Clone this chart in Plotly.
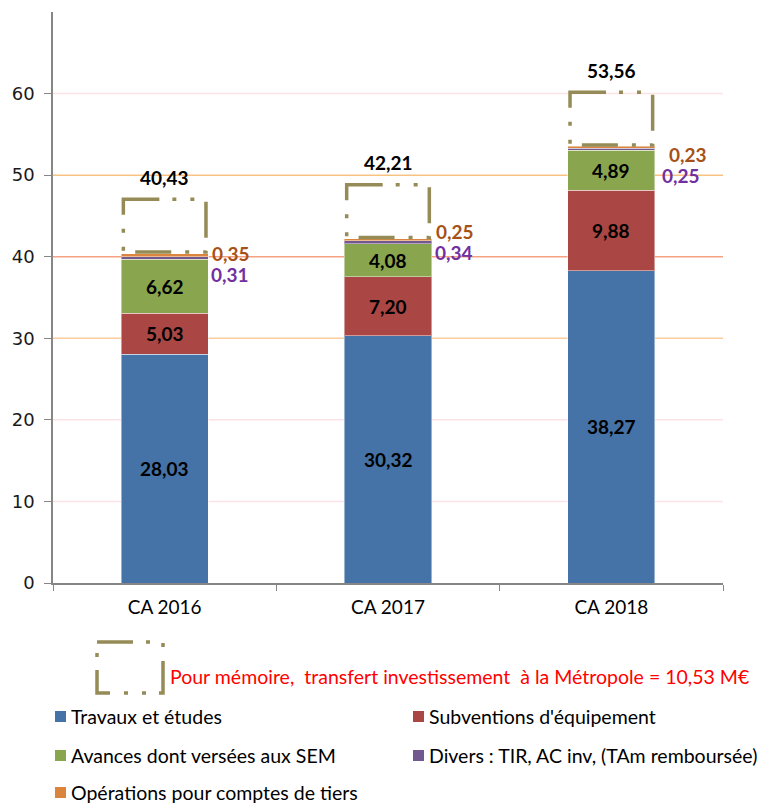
import plotly.graph_objects as go

# --- data -------------------------------------------------------------------
categories = ["CA 2016", "CA 2017", "CA 2018"]
travaux = [28.03, 30.32, 38.27]
subventions = [5.03, 7.20, 9.88]
avances = [6.62, 4.08, 4.89]
divers = [0.31, 0.34, 0.25]
operations = [0.35, 0.25, 0.23]
totals = [40.43, 42.21, 53.56]
memo_text = "Pour mémoire,  transfert investissement  à la Métropole = 10,53 M€"

series = [
    ("Travaux et études", travaux, "#4572a7"),
    ("Subventions d'équipement", subventions, "#aa4643"),
    ("Avances dont versées aux SEM", avances, "#89a54e"),
    ("Divers : TIR, AC inv, (TAm remboursée)", divers, "#71588f"),
    ("Opérations pour comptes de tiers", operations, "#db843d"),
]

FONT = "Lato, sans-serif"
BOX_COLOR = "#958b57"
BOX_DASH = "36px,13px,4px,14px,4px,14px"
MEMO_BOX_H = 6.6     # height of the dashed memo frame, in axis units
BAR_W = 0.39

# plot-area geometry (pixels) used for paper-coordinate placements below
W, H = 764, 803
ML, MR, MT, MB = 53, 41, 12, 220
PW, PH = W - ML - MR, H - MT - MB


def px(x):
    return (x - ML) / PW


def py(y):
    return (H - MB - y) / PH


def fr(v):
    return f"{v:.2f}".replace(".", ",")


fig = go.Figure()
for name, vals, color in series:
    fig.add_trace(go.Bar(
        x=categories, y=vals, name=name, width=BAR_W,
        marker=dict(color=color, line=dict(color="rgba(255,255,255,0.45)", width=1)),
        showlegend=False, hoverinfo="name+y",
    ))

shapes = []
annotations = []

# coloured horizontal gridlines
grid_colors = {10: "#fde2e6", 20: "#fde2e6", 30: "#fbcd9c", 40: "#f6a182",
               50: "#f8c283", 60: "#fde2e6"}
for v, c in grid_colors.items():
    shapes.append(dict(type="line", xref="paper", yref="y", x0=0, x1=1, y0=v, y1=v,
                       line=dict(color=c, width=1.5), layer="below"))

# value labels inside the three large segments
for i, cat in enumerate(categories):
    base = 0.0
    for name, vals, color in series[:3]:
        annotations.append(dict(
            x=cat, y=base + vals[i] / 2, text=f"<b>{fr(vals[i])}</b>",
            showarrow=False, font=dict(size=19, color="black", family=FONT)))
        base += vals[i]

# small-segment labels beside the bars
ops_shift = [(2, 0), (2, 7), (12, -8)]
div_shift = [(1, -21), (1, -14), (5, -29)]
bar_half_px = BAR_W / 2 * PW / 3
for i, cat in enumerate(categories):
    top = totals[i]
    annotations.append(dict(
        x=cat, y=top, xanchor="left", xshift=bar_half_px + ops_shift[i][0], yshift=ops_shift[i][1],
        text=f"<b>{fr(operations[i])}</b>", showarrow=False,
        font=dict(size=19, color="#a65217", family=FONT)))
    annotations.append(dict(
        x=cat, y=top, xanchor="left", xshift=bar_half_px + div_shift[i][0], yshift=div_shift[i][1],
        text=f"<b>{fr(divers[i])}</b>", showarrow=False,
        font=dict(size=19, color="#7030a0", family=FONT)))

# dashed memo frames above each bar, with the total on top
for i, cat in enumerate(categories):
    shapes.append(dict(type="rect", xref="x", yref="y",
                       x0=i - 0.185, x1=i + 0.185, y0=totals[i] + MEMO_BOX_H, y1=totals[i] + 0.15,
                       line=dict(color=BOX_COLOR, width=3.5, dash=BOX_DASH),
                       fillcolor="rgba(0,0,0,0)"))
    annotations.append(dict(
        x=cat, y=totals[i] + MEMO_BOX_H, yshift=22,
        text=f"<b>{fr(totals[i])}</b>", showarrow=False,
        font=dict(size=19, color="black", family=FONT)))

# memo key below the axis
shapes.append(dict(type="rect", xref="paper", yref="paper",
                   x0=px(97), x1=px(163), y0=py(642), y1=py(693),
                   line=dict(color=BOX_COLOR, width=3.5, dash=BOX_DASH),
                   fillcolor="rgba(0,0,0,0)"))
annotations.append(dict(xref="paper", yref="paper", x=px(168), y=py(676),
                        xanchor="left", yanchor="middle",
                        text=memo_text, showarrow=False,
                        font=dict(size=19.5, color="#ff0000", family=FONT)))

# legend entries, two columns
legend_pos = [(55, 716), (413, 716), (55, 755), (413, 755), (55, 792)]
for (name, vals, color), (lx, ly) in zip(series, legend_pos):
    shapes.append(dict(type="rect", xref="paper", yref="paper",
                       x0=px(lx), x1=px(lx + 11), y0=py(ly + 6), y1=py(ly - 5),
                       fillcolor=color, line=dict(width=0)))
    annotations.append(dict(xref="paper", yref="paper", x=px(lx + 14), y=py(ly),
                            xanchor="left", yanchor="middle", text=name, showarrow=False,
                            font=dict(size=19.5, color="black", family=FONT)))

fig.update_layout(
    width=W, height=H, barmode="stack",
    margin=dict(l=ML, r=MR, t=MT, b=MB, pad=0),
    plot_bgcolor="white", paper_bgcolor="white",
    shapes=shapes, annotations=annotations,
    font=dict(family=FONT, size=19, color="black"),
    xaxis=dict(range=[-0.5, 2.5], showgrid=False, showline=True, linecolor="#868686", linewidth=1.5,
               ticks="outside", tickson="boundaries", ticklen=6, tickcolor="#868686",
               ticklabelstandoff=6,
               tickfont=dict(size=19, family=FONT, color="black"), fixedrange=True),
    yaxis=dict(range=[0, 70], tickvals=[0, 10, 20, 30, 40, 50, 60], showgrid=False,
               showline=True, linecolor="#868686", linewidth=1.5, ticks="outside", ticklen=7,
               tickcolor="#868686", ticklabelstandoff=6,
               tickfont=dict(size=18, family="DejaVu Sans, sans-serif", color="#1a1a1a"),
               zeroline=False, fixedrange=True),
)

fig.write_html("out.html")
